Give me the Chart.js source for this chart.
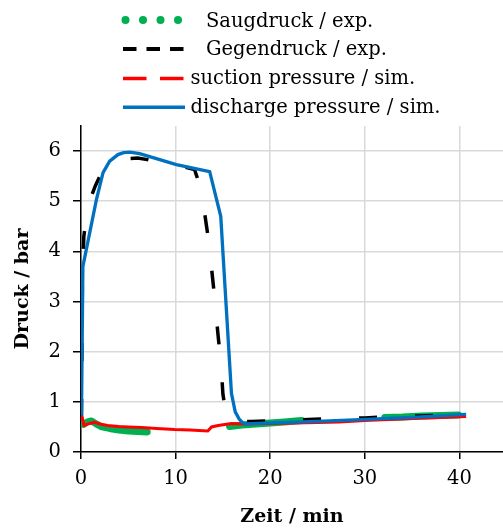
<!DOCTYPE html>
<html><head><meta charset="utf-8">
<script src="https://cdn.jsdelivr.net/npm/chart.js@4.4.1/dist/chart.umd.min.js"></script>
<style>html,body{margin:0;padding:0;background:#fff;}#wrap{width:503px;height:529px;position:relative;}</style>
</head><body><div id="wrap"><canvas id="c" width="503" height="529"></canvas></div>
<script>
// ---- data (time in min, pressure in bar) ----
const xTicks = [0, 10, 20, 30, 40];
const yTicks = [0, 1, 2, 3, 4, 5, 6];

const saugExpT = [0.05, 0.3, 0.7, 1.1, 1.6, 2.2, 3.0, 4.0, 5.0, 6.0, 7.0, 11, 15.7, 17.0, 18.5, 20.0, 21.5, 23.3, 28, 32.1, 34.0, 36.0, 38.0, 39.9];
const saugExpP = [0.56, 0.55, 0.60, 0.62, 0.56, 0.50, 0.47, 0.44, 0.42, 0.41, 0.40, null, 0.51, 0.54, 0.56, 0.58, 0.60, 0.63, null, 0.69, 0.70, 0.72, 0.73, 0.74];

const gegenExpT = [0.05, 0.15, 0.3, 0.6, 1.0, 1.5, 2.0, 2.5, 3.0, 4.0, 5.0, 6.0, 7.0, 8.0, 9.0, 10.0, 11.0, 12.0, 12.5, 13.0, 13.5, 14.0, 14.5, 14.8, 15.0, 15.3, 15.7, 16.5, 18.0, 20.0, 22.0, 24.0, 26.0, 28.0, 30.0, 32.0, 34.0, 36.0, 38.0, 40.0];
const gegenExpP = [0.70, 3.50, 4.30, 4.75, 5.05, 5.30, 5.50, 5.62, 5.70, 5.80, 5.85, 5.86, 5.83, 5.78, 5.75, 5.72, 5.68, 5.63, 5.35, 4.85, 4.20, 3.30, 2.30, 1.75, 1.15, 0.80, 0.66, 0.60, 0.61, 0.62, 0.63, 0.65, 0.66, 0.67, 0.68, 0.70, 0.71, 0.72, 0.73, 0.74];

const suctionSimT = [0.0, 0.15, 0.3, 0.6, 0.9, 1.4, 2.0, 2.8, 4.0, 5.0, 6.4, 8.0, 9.9, 11.5, 13.4, 13.8, 14.5, 15.9, 17.0, 20.0, 25.0, 27.3, 30.0, 35.0, 40.7];
const suctionSimP = [0.73, 0.68, 0.53, 0.55, 0.57, 0.59, 0.56, 0.53, 0.51, 0.50, 0.49, 0.47, 0.45, 0.44, 0.42, 0.50, 0.53, 0.57, 0.56, 0.57, 0.59, 0.60, 0.63, 0.67, 0.71];

const dischargeSimT = [0.05, 0.2, 1.63, 2.33, 3.03, 3.91, 4.5, 5.15, 6.2, 7.26, 10.08, 13.6, 14.77, 15.9, 16.3, 16.7, 17.1, 17.5, 20.0, 25.0, 29.5, 35.0, 40.7];
const dischargeSimP = [0.73, 3.70, 5.03, 5.57, 5.80, 5.93, 5.97, 5.98, 5.95, 5.89, 5.73, 5.59, 4.70, 1.17, 0.80, 0.66, 0.58, 0.56, 0.58, 0.61, 0.645, 0.69, 0.75];

const legendLabels = ['Saugdruck / exp.', 'Gegendruck / exp.', 'suction pressure / sim.', 'discharge pressure / sim.'];

const COL_GREEN = '#00B050', COL_BLACK = '#000000', COL_RED = '#FF0000', COL_BLUE = '#0070C0';
const FONT = '"DejaVu Serif", serif';

function xy(t, p) { return t.map((x, i) => ({ x: x, y: p[i] })); }

const legendPlugin = {
  id: 'customLegend',
  afterDraw(chart) {
    const ctx = chart.ctx;
    ctx.save();
    ctx.font = '19.5px ' + FONT;
    ctx.fillStyle = '#000';
    ctx.textBaseline = 'alphabetic';
    ctx.textAlign = 'left';
    const baselines = [26.5, 55.3, 84.2, 113.0];
    const textX = [206, 206, 190.5, 190.5];
    const x0 = 123, x1 = 184;
    // green dots
    ctx.fillStyle = COL_GREEN;
    [125.5, 143, 160.5, 178].forEach(cx => { ctx.beginPath(); ctx.arc(cx, 20, 4, 0, Math.PI * 2); ctx.fill(); });
    // black dashes
    ctx.strokeStyle = COL_BLACK; ctx.lineWidth = 4; ctx.lineCap = 'butt';
    ctx.setLineDash([13.5, 10]);
    ctx.beginPath(); ctx.moveTo(x0, 49); ctx.lineTo(x1, 49); ctx.stroke();
    // red dashes
    ctx.strokeStyle = COL_RED; ctx.lineWidth = 3.5;
    ctx.setLineDash([23.5, 13.5]);
    ctx.beginPath(); ctx.moveTo(x0, 78.5); ctx.lineTo(x1, 78.5); ctx.stroke();
    // blue solid
    ctx.setLineDash([]);
    ctx.strokeStyle = COL_BLUE; ctx.lineWidth = 3.5;
    ctx.beginPath(); ctx.moveTo(x0, 107.3); ctx.lineTo(185, 107.3); ctx.stroke();
    ctx.fillStyle = '#000';
    legendLabels.forEach((t, i) => ctx.fillText(t, textX[i], baselines[i]));
    ctx.restore();
  }
};

new Chart(document.getElementById('c'), {
  type: 'line',
  data: {
    datasets: [
      { label: legendLabels[0], data: xy(saugExpT, saugExpP), borderColor: COL_GREEN, borderWidth: 7, borderCapStyle: 'round', borderJoinStyle: 'round', pointRadius: 0, tension: 0, spanGaps: false, order: 4 },
      { label: legendLabels[1], data: xy(gegenExpT, gegenExpP), borderColor: COL_BLACK, borderWidth: 3.5, borderDash: [18, 38], pointRadius: 0, tension: 0, order: 3 },
      { label: legendLabels[2], data: xy(suctionSimT, suctionSimP), borderColor: COL_RED, borderWidth: 3, pointRadius: 0, tension: 0, order: 2 },
      { label: legendLabels[3], data: xy(dischargeSimT, dischargeSimP), borderColor: COL_BLUE, borderWidth: 3.3, pointRadius: 0, tension: 0, order: 1 }
    ]
  },
  options: {
    responsive: false,
    animation: false,
    layout: { padding: { top: 126, left: 0, right: 0, bottom: 0 } },
    plugins: { legend: { display: false }, tooltip: { enabled: false } },
    scales: {
      x: {
        type: 'linear', min: 0, max: 44.6,
        afterBuildTicks: s => { s.ticks = xTicks.map(v => ({ value: v })); },
        afterFit: s => { s.height = 77; },
        ticks: { font: { family: FONT, size: 19.5 }, color: '#000', padding: 8, maxRotation: 0 },
        grid: { color: '#d9d9d9', lineWidth: 1.5, tickColor: '#000', tickLength: 7 },
        border: { color: '#000', width: 1.5 },
        title: { display: true, text: 'Zeit / min', color: '#000', font: { family: FONT, size: 19, weight: 'bold' }, padding: { top: 0, bottom: 1 } }
      },
      y: {
        type: 'linear', min: 0, max: 6.5,
        afterBuildTicks: s => { s.ticks = yTicks.map(v => ({ value: v })); },
        afterFit: s => { s.width = 81; },
        ticks: { font: { family: FONT, size: 19.5 }, color: '#000', padding: 12 },
        grid: { color: '#d9d9d9', lineWidth: 1.5, tickColor: '#000', tickLength: 8 },
        border: { color: '#000', width: 1.5 },
        title: { display: true, text: 'Druck / bar', color: '#000', font: { family: FONT, size: 19, weight: 'bold' }, padding: { top: 12, bottom: 0 } }
      }
    }
  },
  plugins: [legendPlugin]
});
</script>
</body></html>
